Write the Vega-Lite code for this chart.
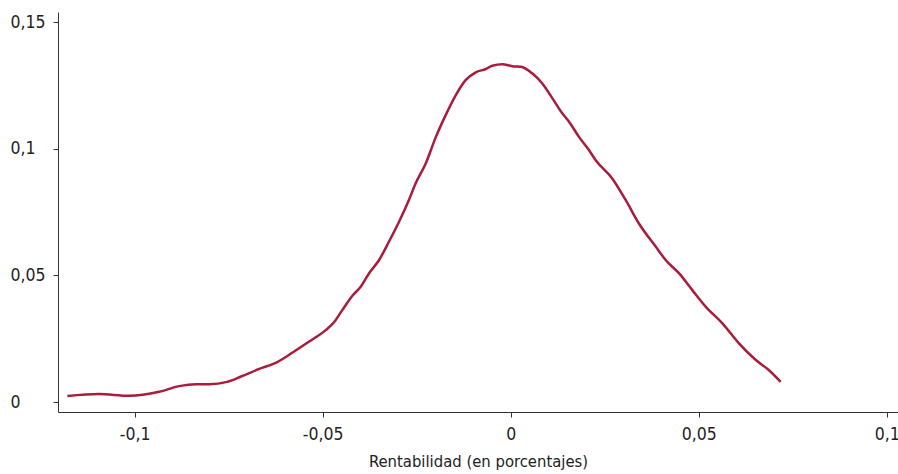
{
  "$schema": "https://vega.github.io/schema/vega-lite/v6.json",
  "width": 840,
  "height": 400,
  "autosize": {"type": "none"},
  "padding": {"left": 58, "top": 12, "right": 0, "bottom": 62},
  "background": "white",
  "config": {
    "view": {"stroke": null},
    "font": "DejaVu Sans Condensed, Roboto, sans-serif",
    "axis": {"domainColor": "#333333", "tickColor": "#333333", "labelColor": "#222222", "titleColor": "#222222", "grid": false, "labelFont": "DejaVu Sans Condensed, Roboto, sans-serif", "titleFont": "DejaVu Sans Condensed, Roboto, sans-serif"}
  },
  "data": {
    "values": [
      {"x": -0.1179, "y": 0.00237},
      {"x": -0.1095, "y": 0.00316},
      {"x": -0.1015, "y": 0.00249},
      {"x": -0.0935, "y": 0.00407},
      {"x": -0.0882, "y": 0.00632},
      {"x": -0.0838, "y": 0.0071},
      {"x": -0.0802, "y": 0.0071},
      {"x": -0.0754, "y": 0.0080},
      {"x": -0.0714, "y": 0.0103},
      {"x": -0.0669, "y": 0.0131},
      {"x": -0.0621, "y": 0.0158},
      {"x": -0.0581, "y": 0.0195},
      {"x": -0.0537, "y": 0.0238},
      {"x": -0.0492, "y": 0.0284},
      {"x": -0.0470, "y": 0.0315},
      {"x": -0.0448, "y": 0.0363},
      {"x": -0.0421, "y": 0.0420},
      {"x": -0.0399, "y": 0.0455},
      {"x": -0.0377, "y": 0.0508},
      {"x": -0.0350, "y": 0.0561},
      {"x": -0.0324, "y": 0.0633},
      {"x": -0.0297, "y": 0.0712},
      {"x": -0.0271, "y": 0.0797},
      {"x": -0.0253, "y": 0.0863},
      {"x": -0.0226, "y": 0.0942},
      {"x": -0.0199, "y": 0.1047},
      {"x": -0.0173, "y": 0.1133},
      {"x": -0.0146, "y": 0.1212},
      {"x": -0.0120, "y": 0.1271},
      {"x": -0.0093, "y": 0.1302},
      {"x": -0.0066, "y": 0.1315},
      {"x": -0.0049, "y": 0.1328},
      {"x": -0.0022, "y": 0.1334},
      {"x": 0.0004, "y": 0.1326},
      {"x": 0.0027, "y": 0.1324},
      {"x": 0.0057, "y": 0.1298},
      {"x": 0.0084, "y": 0.1258},
      {"x": 0.0111, "y": 0.1199},
      {"x": 0.0137, "y": 0.1140},
      {"x": 0.0155, "y": 0.1107},
      {"x": 0.0182, "y": 0.1046},
      {"x": 0.0208, "y": 0.0995},
      {"x": 0.0226, "y": 0.0955},
      {"x": 0.0270, "y": 0.0883},
      {"x": 0.0306, "y": 0.0797},
      {"x": 0.0341, "y": 0.0705},
      {"x": 0.0386, "y": 0.0613},
      {"x": 0.0412, "y": 0.0561},
      {"x": 0.0448, "y": 0.0508},
      {"x": 0.0483, "y": 0.0442},
      {"x": 0.0519, "y": 0.0376},
      {"x": 0.0563, "y": 0.0311},
      {"x": 0.0607, "y": 0.0232},
      {"x": 0.0652, "y": 0.0166},
      {"x": 0.0687, "y": 0.0126},
      {"x": 0.0718, "y": 0.0080}
    ]
  },
  "mark": {"type": "line", "color": "#a81c3c", "strokeWidth": 2.5, "interpolate": "monotone"},
  "encoding": {
    "x": {
      "field": "x", "type": "quantitative",
      "scale": {"domain": [-0.1204, 0.1030], "nice": false, "zero": false},
      "axis": {
        "values": [-0.1, -0.05, 0, 0.05, 0.1],
        "labelExpr": "replace(replace(format(datum.value, '~g'), /[\u2212]/, '-'), '.', ',')",
        "title": "Rentabilidad (en porcentajes)",
        "labelFontSize": 17.5, "titleFontSize": 16.5, "titleFontWeight": "normal",
        "tickSize": 5, "labelPadding": 8, "titlePadding": 11,
        "labelFlush": false, "labelBound": false, "labelOverlap": false
      }
    },
    "y": {
      "field": "y", "type": "quantitative",
      "scale": {"domain": [-0.0039, 0.154], "nice": false, "zero": false},
      "axis": {
        "values": [0, 0.05, 0.1, 0.15],
        "labelExpr": "replace(format(datum.value, '~g'), '.', ',')",
        "title": null,
        "labelFontSize": 17.5, "labelAlign": "left", "labelPadding": 43,
        "tickSize": 5, "labelFlush": false, "labelBound": false, "labelOverlap": false
      }
    }
  }
}
